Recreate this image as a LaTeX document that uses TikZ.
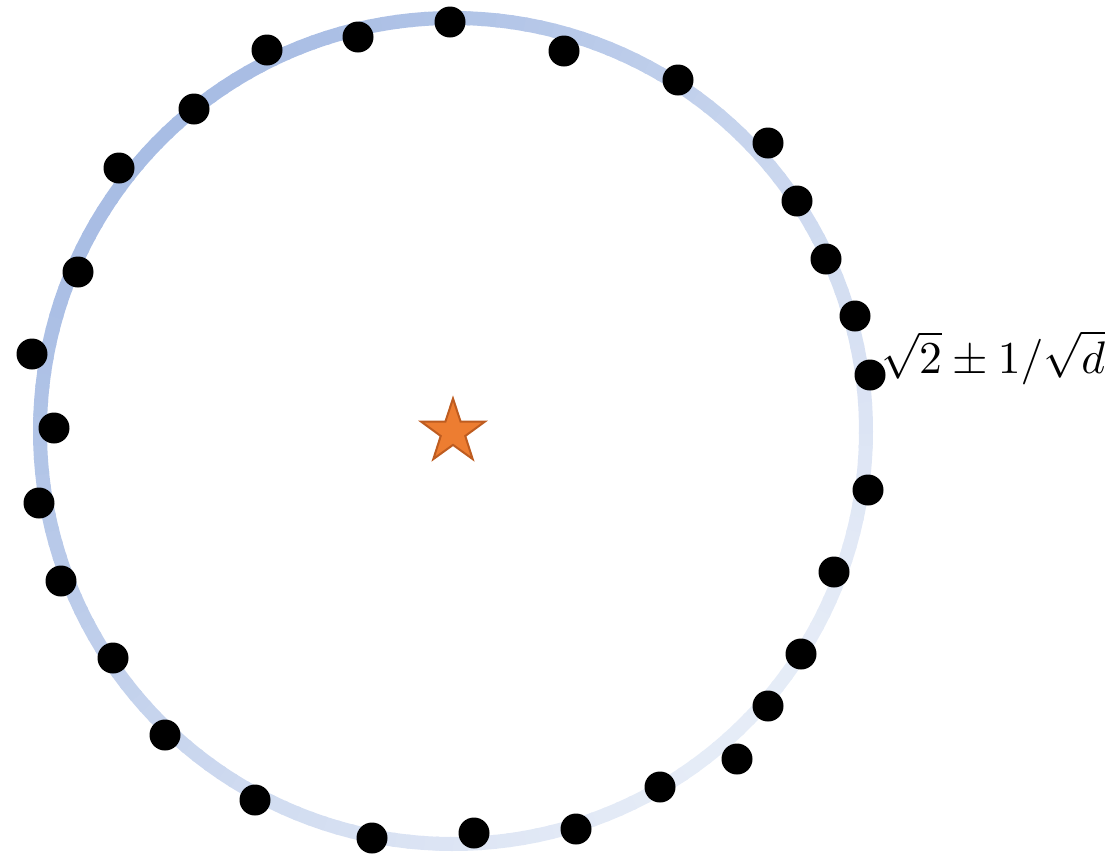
\documentclass[tikz,border=0pt]{standalone}
\usepackage{graphicx}
\usetikzlibrary{shapes.geometric}
\definecolor{ringdark}{RGB}{168,189,228}
\definecolor{ringlight}{RGB}{230,236,247}
\definecolor{starfill}{RGB}{237,125,49}
\definecolor{starline}{RGB}{190,92,32}
\begin{document}
\begin{tikzpicture}[x=1pt,y=-1pt,
  dot/.style={circle,fill=black,inner sep=0pt,minimum size=31pt}]
\useasboundingbox (0,0) rectangle (1117,855);
\coordinate (c) at (453,431);
\foreach \a in {0,2,...,358}{
  \pgfmathtruncatemacro\mixp{100*((cos(\a+1)+sin(\a+1))/sqrt(2)+1)/2}
  \draw[line width=14pt, ringlight!\mixp!ringdark] (c) ++(\a:413) arc[start angle=\a,end angle=\a+2.4,radius=413];
}
\foreach \x/\y [count=\i] in {450/22,564/51,678/80,768/143,797/201,826/259,855/316,870/375,868/490,834/572,801/654,768/706,737/759,660/787,576/829,474/833,372/838,255/800,165/735,113/658,61/581,39/503,54/428,32/354,78/272,119/168,194/109,267/50,358/37}{
  \node[dot] (d\i) at (\x,\y) {};
}
\node[star, star points=5, star point ratio=2.6, minimum size=67pt, inner sep=0pt,
  fill=starfill, draw=starline, line width=2pt] (star) at (453,432) {};
\node[anchor=base west, inner sep=0pt] (lbl) at (881,373) {\resizebox{224pt}{!}{$\sqrt{2}\pm 1/\sqrt{d}$}};
\end{tikzpicture}
\end{document}
